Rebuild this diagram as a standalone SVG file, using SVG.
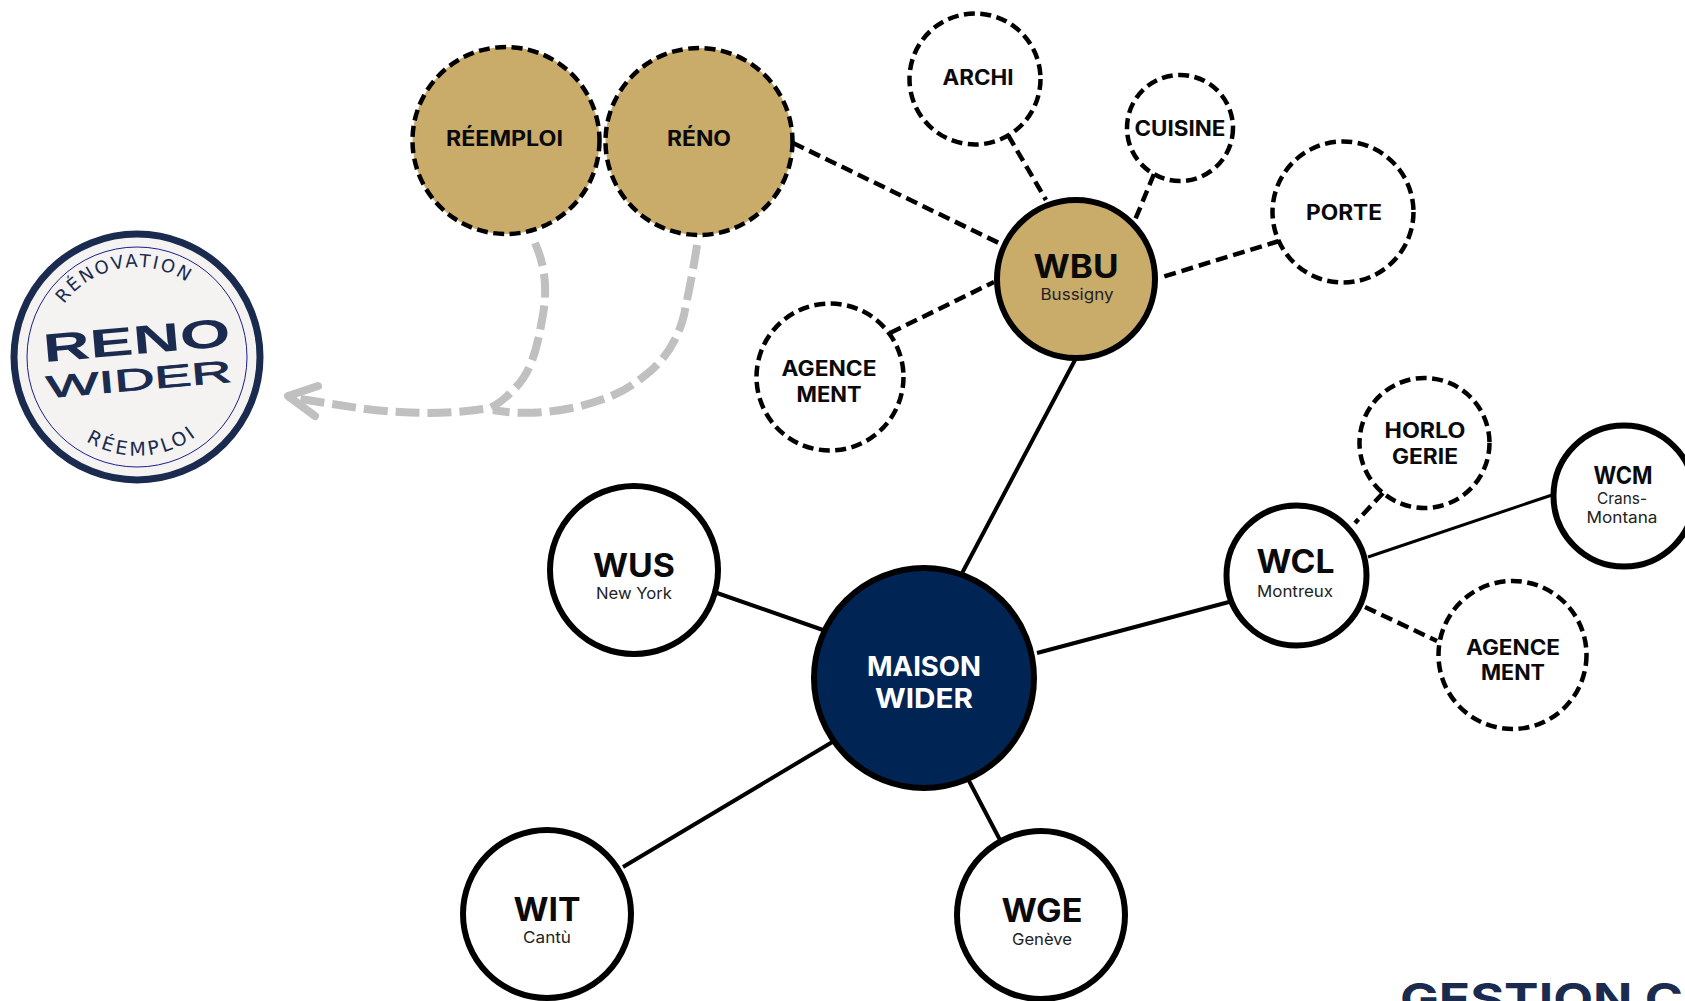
<svg xmlns="http://www.w3.org/2000/svg" xmlns:xlink="http://www.w3.org/1999/xlink" width="1685" height="1001" viewBox="0 0 1685 1001">
<style>
text{font-family:"Inter","Open Sans","Liberation Sans",sans-serif;text-anchor:middle;fill:#0a0a0a}
.b{font-weight:700}
.s{font-weight:400;fill:#222}
.dash{fill:#fff;stroke:#000;stroke-width:4.5;stroke-dasharray:11 5.5}
.solid{fill:#fff;stroke:#000;stroke-width:6}
.gold{fill:#c9ab6a}
.l{fill:none;stroke:#000;stroke-width:4}
.d{fill:none;stroke:#000;stroke-width:4.5;stroke-dasharray:12 6}
.g{fill:none;stroke:#c0c0c0;stroke-width:8;stroke-dasharray:24 8}
.stamp{font-family:"DejaVu Sans",sans-serif;fill:#1a2b4f;text-anchor:start}
.wide{font-family:"Liberation Sans",sans-serif;fill:#1a2b4f;text-anchor:start;font-weight:700}
</style>
<defs>
<path id="arcTop" d="M64 304A90 90 0 0 1 200 293"/>
<path id="arcBot" d="M86 441A98 98 0 0 0 206 428"/>
</defs>
<g id="connectors">
<path class="l" d="M1075 360L960 577M717 593L823 630M623 867L834 741M968 779L1000 840M1037 653L1229 602"/>
<path class="l" style="stroke-width:3" d="M1368 557L1552 495"/>
<path class="d" d="M793 143L1003 245M1008 135L1046 200M1154 174L1135 220M1279 241L1159 278M890 333L994 282M1383 493L1355 523M1365 607L1437 641"/>
<path class="g" d="M535 243C547 270 547 295 542 320C537 350 530 375 513 390C505 399 498 404 490 408C460 413 430 414 400 412C375 411 350 407 288 397"/>
<path class="g" d="M697 245C693 272 689 290 684 315C678 340 664 362 643 377C625 392 605 400 577 407C550 413 520 415 493 410"/>
<path fill="none" stroke="#c0c0c0" stroke-width="8" stroke-linecap="round" stroke-linejoin="round" d="M318 386L288 396L315 416"/>
</g>
<g id="logo">
<circle cx="137" cy="357" r="123" fill="#f4f3f2" stroke="#1a2b4f" stroke-width="7"/>
<circle cx="137" cy="357" r="110" fill="none" stroke="#1b1f8a" stroke-width="1"/>
<text class="stamp" font-size="18" letter-spacing="2.2"><textPath xlink:href="#arcTop">RÉNOVATION</textPath></text>
<text class="stamp" font-size="19" letter-spacing="3"><textPath xlink:href="#arcBot">RÉEMPLOI</textPath></text>
<text class="wide" font-size="40" x="43" y="354" textLength="188" lengthAdjust="spacingAndGlyphs" transform="rotate(-5 137 345)">RENO</text>
<text class="wide" font-size="31" x="46" y="390" textLength="186" lengthAdjust="spacingAndGlyphs" transform="rotate(-5 137 380)" style="font-weight:400;stroke:#1a2b4f;stroke-width:.8">WIDER</text>
</g>
<g id="reemploi"><circle class="dash gold" cx="506" cy="140.5" r="93.5"/><text class="b" x="504.5" y="146" font-size="21" textLength="117" lengthAdjust="spacingAndGlyphs">RÉEMPLOI</text></g>
<g id="reno"><circle class="dash gold" cx="699" cy="141.5" r="93.5"/><text class="b" x="699" y="146" font-size="21" textLength="64" lengthAdjust="spacingAndGlyphs">RÉNO</text></g>
<g id="archi"><circle class="dash" cx="975" cy="79" r="65.5"/><text class="b" x="978" y="85" font-size="21" textLength="71" lengthAdjust="spacingAndGlyphs">ARCHI</text></g>
<g id="cuisine"><circle class="dash" cx="1180" cy="128" r="53"/><text class="b" x="1180" y="136" font-size="21" textLength="91" lengthAdjust="spacingAndGlyphs">CUISINE</text></g>
<g id="porte"><circle class="dash" cx="1343" cy="212" r="70.5"/><text class="b" x="1344" y="220" font-size="21" textLength="76" lengthAdjust="spacingAndGlyphs">PORTE</text></g>
<g id="wbu"><circle class="solid gold" cx="1076" cy="279" r="79"/><text class="b" x="1076" y="278" font-size="32" textLength="85" lengthAdjust="spacingAndGlyphs">WBU</text><text class="s" x="1077" y="300" font-size="16" textLength="73" lengthAdjust="spacingAndGlyphs">Bussigny</text></g>
<g id="agencement-1"><circle class="dash" cx="830" cy="377" r="73.5"/><text class="b" x="829" y="376" font-size="21" textLength="95" lengthAdjust="spacingAndGlyphs">AGENCE</text><text class="b" x="829" y="402" font-size="21" textLength="65" lengthAdjust="spacingAndGlyphs">MENT</text></g>
<g id="wus"><circle class="solid" cx="634" cy="570" r="84"/><text class="b" x="634" y="577" font-size="32" textLength="82" lengthAdjust="spacingAndGlyphs">WUS</text><text class="s" x="634" y="599" font-size="16" textLength="76" lengthAdjust="spacingAndGlyphs">New York</text></g>
<g id="maison"><circle cx="924" cy="678" r="110" fill="#002554" stroke="#000" stroke-width="6"/><text class="b" x="924" y="676" font-size="27" style="fill:#fff" textLength="114" lengthAdjust="spacingAndGlyphs">MAISON</text><text class="b" x="924" y="708" font-size="27" style="fill:#fff" textLength="98" lengthAdjust="spacingAndGlyphs">WIDER</text></g>
<g id="wcl"><circle class="solid" cx="1296.5" cy="575.5" r="70"/><text class="b" x="1295.5" y="573" font-size="32" textLength="78" lengthAdjust="spacingAndGlyphs">WCL</text><text class="s" x="1295" y="597" font-size="16" textLength="76" lengthAdjust="spacingAndGlyphs">Montreux</text></g>
<g id="horlogerie"><circle class="dash" cx="1424.5" cy="443" r="65"/><text class="b" x="1425" y="438" font-size="21" textLength="81" lengthAdjust="spacingAndGlyphs">HORLO</text><text class="b" x="1425" y="464" font-size="21" textLength="66" lengthAdjust="spacingAndGlyphs">GERIE</text></g>
<g id="wcm"><circle class="solid" cx="1624" cy="496" r="70.5"/><text class="b" x="1623" y="484" font-size="24" textLength="59" lengthAdjust="spacingAndGlyphs">WCM</text><text class="s" x="1622" y="504" font-size="16" textLength="50" lengthAdjust="spacingAndGlyphs">Crans-</text><text class="s" x="1622" y="523" font-size="16" textLength="71" lengthAdjust="spacingAndGlyphs">Montana</text></g>
<g id="agencement-2"><circle class="dash" cx="1512.5" cy="655" r="74"/><text class="b" x="1513" y="655" font-size="21" textLength="94" lengthAdjust="spacingAndGlyphs">AGENCE</text><text class="b" x="1513" y="680" font-size="21" textLength="64" lengthAdjust="spacingAndGlyphs">MENT</text></g>
<g id="wit"><circle class="solid" cx="547" cy="914" r="84"/><text class="b" x="547" y="921" font-size="32" textLength="67" lengthAdjust="spacingAndGlyphs">WIT</text><text class="s" x="547" y="943" font-size="16" textLength="48" lengthAdjust="spacingAndGlyphs">Cantù</text></g>
<g id="wge"><circle class="solid" cx="1041" cy="915" r="84"/><text class="b" x="1042" y="922" font-size="32" textLength="81" lengthAdjust="spacingAndGlyphs">WGE</text><text class="s" x="1042" y="945" font-size="16" textLength="60" lengthAdjust="spacingAndGlyphs">Genève</text></g>
<text class="b" x="1400" y="1014" font-size="43" style="fill:#1a2b4f;text-anchor:start" textLength="283" lengthAdjust="spacingAndGlyphs">GESTION C</text>
</svg>
